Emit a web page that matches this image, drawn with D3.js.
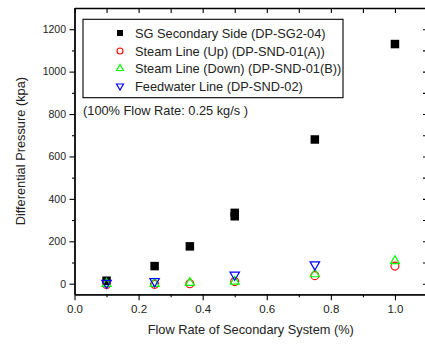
<!DOCTYPE html>
<html><head><meta charset="utf-8">
<script src="https://cdn.jsdelivr.net/npm/d3@7"></script>
<style>body{margin:0;background:#fff}svg{display:block}text{font-family:"Liberation Sans",Arial,sans-serif}</style>
</head><body>
<svg id="c" width="425" height="344"></svg>
<script>
const seriesNames = ["SG Secondary Side (DP-SG2-04)","Steam Line (Up) (DP-SND-01(A))","Steam Line (Down) (DP-SND-01(B))","Feedwater Line (DP-SND-02)"];
const sgX = [0.1,0.25,0.36,0.5,0.5,0.75,1.0];
const sgY = [14,83,176,318,334,680,1130];
const upX = [0.1,0.25,0.36,0.5,0.75,1.0];
const upY = [-4,-3,0,10,38,83];
const downX = [0.1,0.25,0.36,0.5,0.75,1.0];
const downY = [0,0,4,10,45,107];
const fwX = [0.1,0.25,0.5,0.75];
const fwY = [3,11,42,90];
const xMajor = [0,0.2,0.4,0.6,0.8,1.0];
const xMinor = [0.1,0.3,0.5,0.7,0.9,1.1];
const yMajor = [0,200,400,600,800,1000,1200];
const yMinor = [100,300,500,700,900,1100];
const xTitle = "Flow Rate of Secondary System (%)";
const yTitle = "Differential Pressure (kpa)";
const note = "(100% Flow Rate: 0.25 kg/s )";

const L=74.5,R=427,T=8,B=294.3;
const x=d3.scaleLinear().domain([0,1.1]).range([L,R]);
const y=d3.scaleLinear().domain([-50,1300]).range([B,T]);
const svg=d3.select("#c");

function ax(gen, tr){ const g=svg.append("g").attr("transform",tr).call(gen); g.selectAll("path,line").attr("stroke","#000").attr("stroke-width",1.1); g.select(".domain").attr("stroke-width",1.3); return g;}
// bottom
ax(d3.axisBottom(x).tickValues(xMajor).tickSize(6).tickSizeOuter(0).tickFormat(d3.format(".1f")),`translate(0,${B})`)
  .selectAll("text").attr("font-size",11.5).attr("dy",0).attr("y",19).attr("fill","#222");
ax(d3.axisBottom(x).tickValues(xMinor).tickSize(3).tickSizeOuter(0).tickFormat(""),`translate(0,${B})`);
// top
ax(d3.axisTop(x).tickValues(xMajor.concat(xMinor)).tickSize(-5).tickSizeOuter(0).tickFormat(""),`translate(0,${T})`);
// left
ax(d3.axisLeft(y).tickValues(yMajor).tickSize(5).tickSizeOuter(0).tickFormat(d3.format("d")),`translate(${L},0)`)
  .selectAll("text").attr("font-size",10.5).attr("x",-8.5).attr("fill","#222");
ax(d3.axisLeft(y).tickValues(yMinor).tickSize(2.5).tickSizeOuter(0).tickFormat(""),`translate(${L},0)`);
// right
ax(d3.axisRight(y).tickValues(yMajor.concat(yMinor)).tickSize(-4).tickSizeOuter(0).tickFormat(""),`translate(${R},0)`);

svg.append("text").attr("x",(L+R)/2).attr("y",334).attr("text-anchor","middle").attr("font-size",12.8).attr("fill","#222").text(xTitle);
svg.append("text").attr("transform",`translate(25,${(T+B)/2}) rotate(-90)`).attr("text-anchor","middle").attr("font-size",12.8).attr("fill","#222").text(yTitle);

function sq(g,cx,cy,s){g.append("rect").attr("x",cx-s/2).attr("y",cy-s/2).attr("width",s).attr("height",s).attr("fill","#000");}
function circ(g,cx,cy,r){g.append("circle").attr("cx",cx).attr("cy",cy).attr("r",r).attr("fill","none").attr("stroke","#f00").attr("stroke-width",1.1);}
function tri(g,cx,cy,s,up,col){const h=s*Math.sqrt(3)/2; const a=up?1:-1;
  const pts=[[cx,cy+a*(-2*h/3)],[cx-s/2,cy+a*(h/3)],[cx+s/2,cy+a*(h/3)]];
  g.append("path").attr("d","M"+pts.map(p=>p.join(",")).join("L")+"Z").attr("fill","none").attr("stroke",col).attr("stroke-width",1.2);}

const gm=svg.append("g");
sgX.forEach((v,i)=>sq(gm,x(v),y(sgY[i]),8.5));
upX.forEach((v,i)=>circ(gm,x(v),y(upY[i]),4));
downX.forEach((v,i)=>tri(gm,x(v),y(downY[i]),9,true,"#0f0"));
fwX.forEach((v,i)=>tri(gm,x(v),y(fwY[i]),9.5,false,"#00f"));

// legend
svg.append("rect").attr("x",83).attr("y",19.3).attr("width",260).attr("height",78.4).attr("fill","#fff").attr("stroke","#000").attr("stroke-width",1.1);
const rows=[33,51,68.5,86];
const lg=svg.append("g");
sq(lg,120,rows[0],6);
circ(lg,120,rows[1],3);
tri(lg,120,rows[2],7,true,"#0f0");
tri(lg,120,rows[3],7,false,"#00f");
seriesNames.forEach((n,i)=>svg.append("text").attr("x",135).attr("y",rows[i]+4.6).attr("font-size",12.8).attr("fill","#222").text(n));
svg.append("text").attr("x",83).attr("y",114.5).attr("font-size",12.8).attr("fill","#222").text(note);
</script>
</body></html>
